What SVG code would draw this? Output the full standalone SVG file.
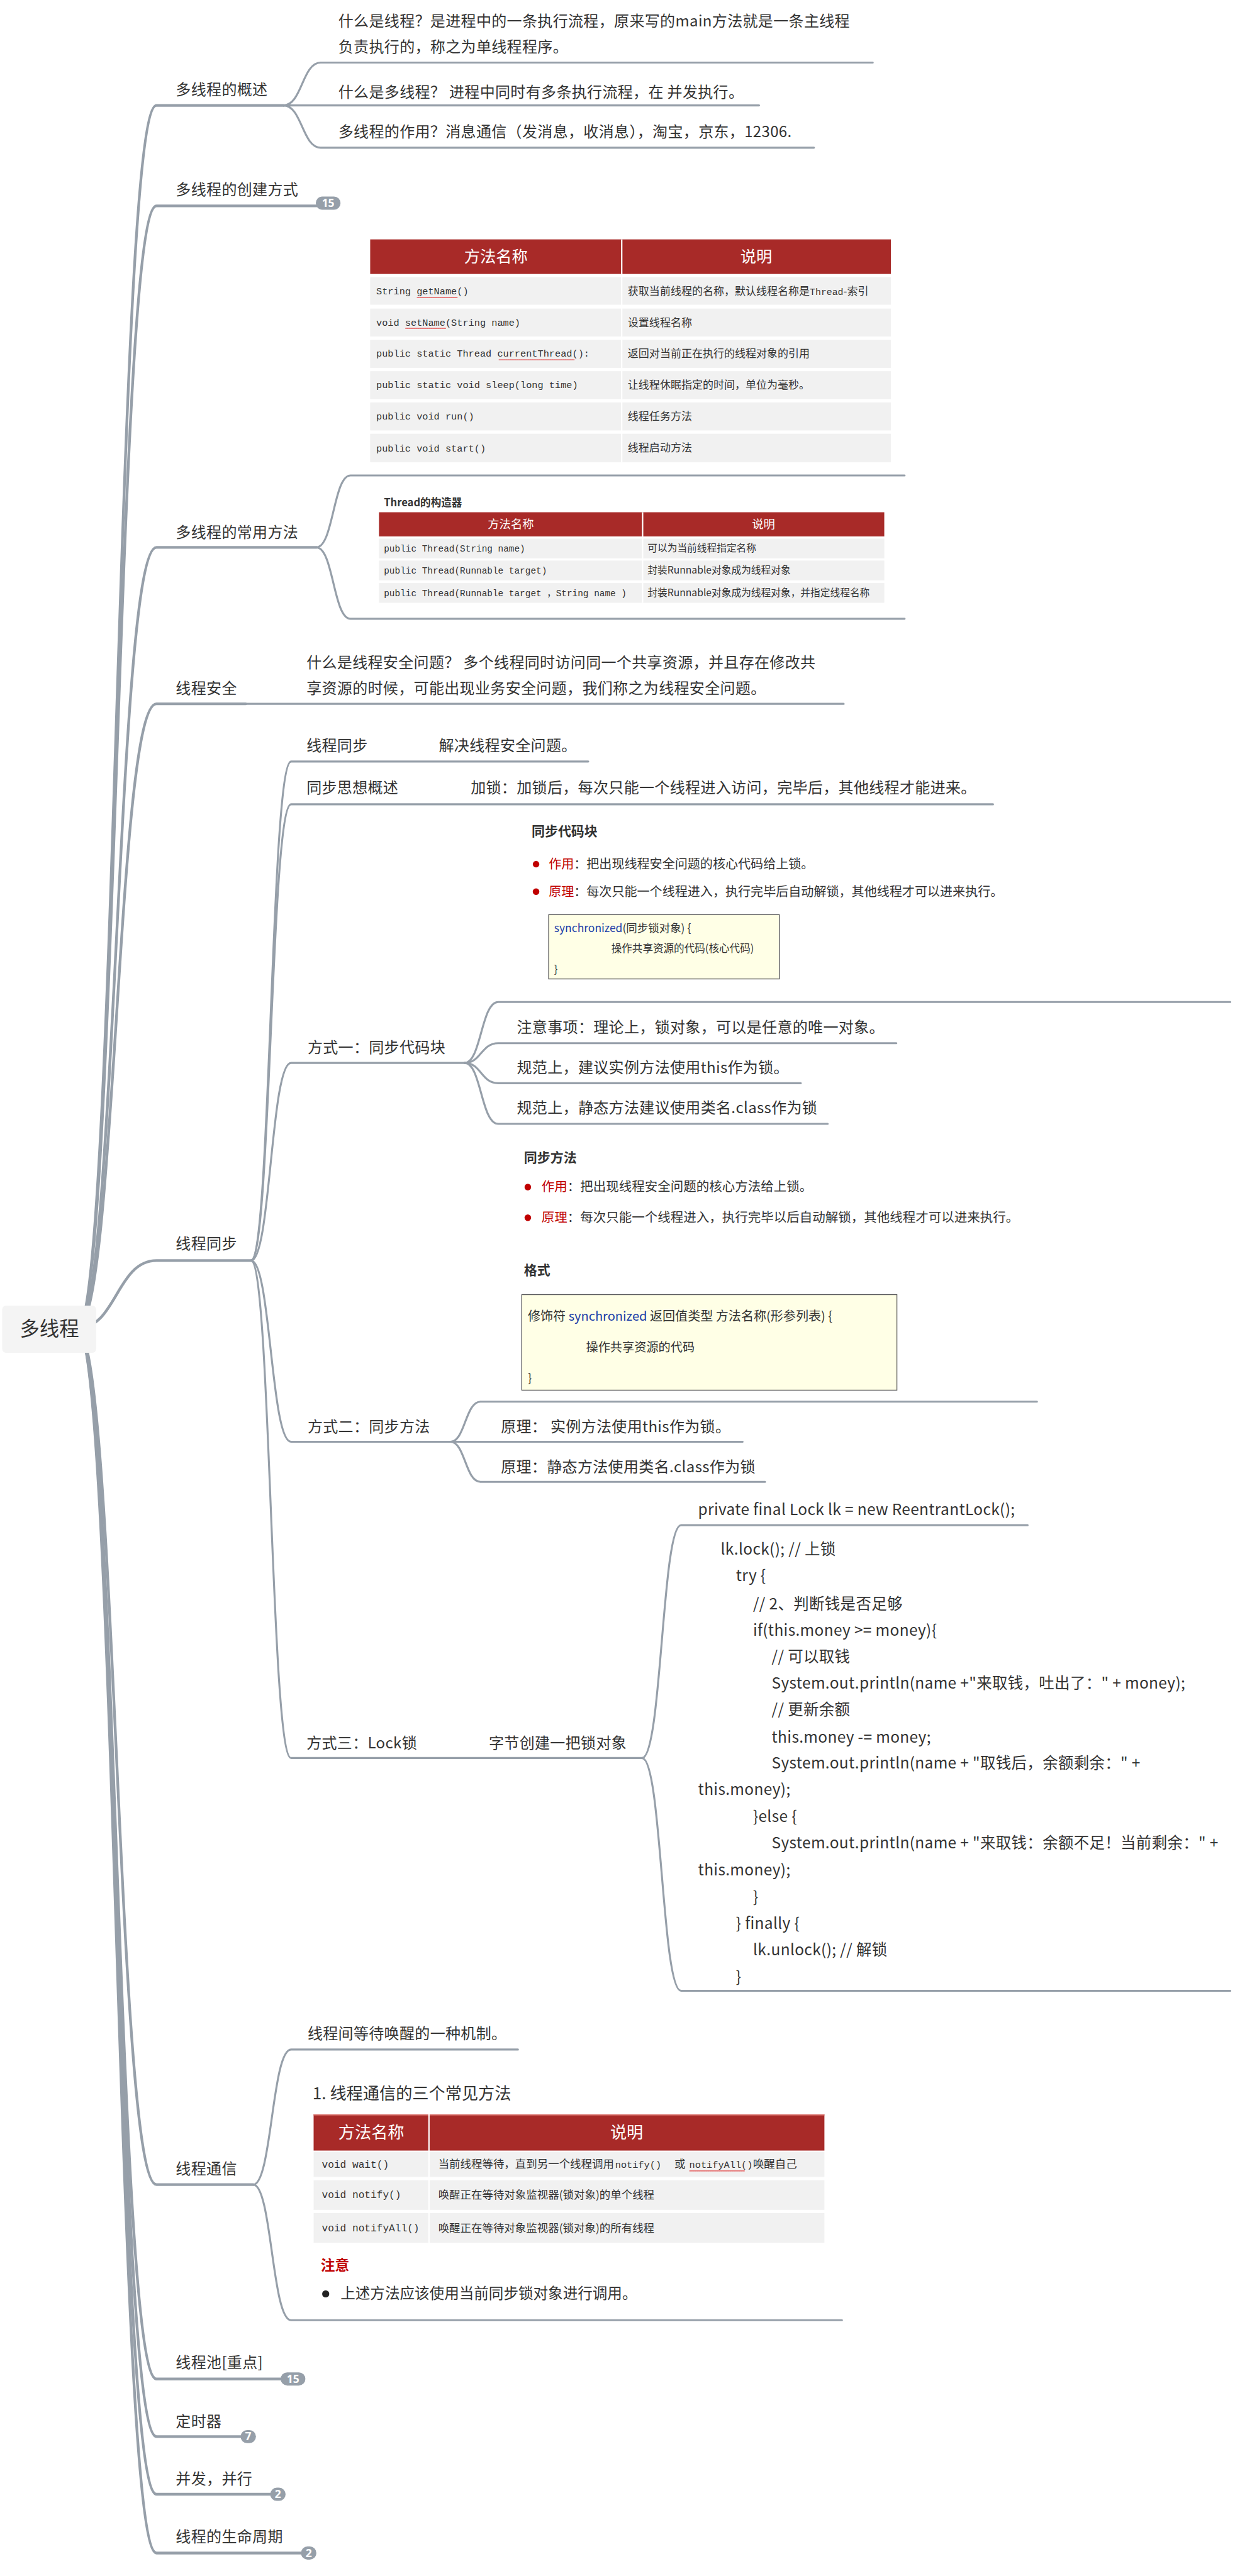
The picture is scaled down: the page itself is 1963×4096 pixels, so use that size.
<svg xmlns="http://www.w3.org/2000/svg" width="1963" height="4096" viewBox="0 0 1963 4096">
<defs>
<style>
.ln{fill:none;stroke:#969fa9;stroke-width:3.6;stroke-linecap:round}
.l1{stroke-width:5}
.t{font-family:"Noto Sans CJK SC","Noto Sans",sans-serif;font-size:27.5px;letter-spacing:0.4px;fill:#333}
.code{font-size:28px}
.s{font-family:"Noto Sans CJK SC","Noto Sans",sans-serif;fill:#333}
.b{font-weight:bold}
.m{font-family:"Liberation Mono","Noto Sans CJK SC",monospace;fill:#333}
.w{fill:#fff}
.red{fill:#c00000}
.blue{fill:#2040a8}
.hd{fill:#a82a28}
.row{fill:#f1f1f1}
.badge{fill:#969fa9}
.bt{font-family:"Noto Sans","Noto Sans CJK SC",sans-serif;font-size:20px;font-weight:bold;fill:#fff;text-anchor:middle}
.box{fill:#ffffe6;stroke:#555;stroke-width:1.5}
</style>
<pattern id="wave" width="4" height="4" patternUnits="userSpaceOnUse"><path d="M0 3 L1 1 L2 3 L3 1 L4 3" stroke="#e03030" fill="none" stroke-width="0.8"/></pattern>
</defs>
<rect width="1963" height="4096" fill="#fff"/>
<g transform="scale(0.873)">
<g id="connectors">
<path class="ln l1" d="M140 2420 C212 2420 212 192 285 192 L516 192"/>
<path class="ln l1" d="M140 2420 C212 2420 212 375 285 375 L590 375"/>
<path class="ln l1" d="M140 2420 C212 2420 212 997 285 997 L576 997"/>
<path class="ln l1" d="M140 2420 C212 2420 212 1282 285 1282 L447 1282"/>
<path class="ln l1" d="M140 2420 C212 2420 212 2296 285 2296 L457 2296"/>
<path class="ln l1" d="M140 2420 C212 2420 212 3979 285 3979 L461 3979"/>
<path class="ln l1" d="M140 2420 C212 2420 212 4333 285 4333 L525 4333"/>
<path class="ln l1" d="M140 2420 C212 2420 212 4438 285 4438 L445 4438"/>
<path class="ln l1" d="M140 2420 C212 2420 212 4543 285 4543 L500 4543"/>
<path class="ln l1" d="M140 2420 C212 2420 212 4650 285 4650 L556 4650"/>
<path class="ln" d="M516 192 C550 192 550 114 584 114 L1589 114"/>
<path class="ln" d="M516 192 L1382 192"/>
<path class="ln" d="M516 192 C550 192 550 269 584 269 L1482 269"/>
<path class="ln" d="M576 997 C607 997 607 866 638 866 L1647 866"/>
<path class="ln" d="M576 997 C607 997 607 1127 638 1127 L1647 1127"/>
<path class="ln" d="M447 1282 L1536 1282"/>
<path class="ln" d="M457 2296 C493 2296 493 1387 530 1387 L1071 1387"/>
<path class="ln" d="M457 2296 C493 2296 493 1465 530 1465 L1808 1465"/>
<path class="ln" d="M457 2296 C493 2296 493 1936 530 1936 L846 1936"/>
<path class="ln" d="M457 2296 C493 2296 493 2626 530 2626 L820 2626"/>
<path class="ln" d="M457 2296 C493 2296 493 3202 530 3202 L1169 3202"/>
<path class="ln" d="M846 1936 C876 1936 876 1825 907 1825 L2240 1825"/>
<path class="ln" d="M846 1936 C876 1936 876 1900 907 1900 L1632 1900"/>
<path class="ln" d="M846 1936 C876 1936 876 1973 907 1973 L1458 1973"/>
<path class="ln" d="M846 1936 C876 1936 876 2047 907 2047 L1507 2047"/>
<path class="ln" d="M820 2626 C847 2626 847 2553 875 2553 L1888 2553"/>
<path class="ln" d="M820 2626 L1352 2626"/>
<path class="ln" d="M820 2626 C847 2626 847 2699 875 2699 L1393 2699"/>
<path class="ln" d="M1169 3202 C1205 3202 1205 2778 1240 2778 L1871 2778"/>
<path class="ln" d="M1169 3202 C1205 3202 1205 3626 1240 3626 L2240 3626"/>
<path class="ln" d="M461 3979 C495 3979 495 3733 530 3733 L943 3733"/>
<path class="ln" d="M461 3979 C495 3979 495 4226 530 4226 L1533 4226"/>
</g>

<g id="root">
<rect x="4" y="2378" width="171" height="86" rx="7" fill="#f4f4f4"/>
<text class="s" x="90" y="2433" font-size="36" text-anchor="middle">多线程</text>
</g>

<g id="n-overview">
<text class="t" x="320" y="173">多线程的概述</text>
<text class="t" x="616" y="48">什么是线程？是进程中的一条执行流程，原来写的main方法就是一条主线程</text>
<text class="t" x="616" y="95">负责执行的，称之为单线程程序。</text>
<text class="t" x="616" y="177">什么是多线程？ 进程中同时有多条执行流程，在 并发执行。</text>
<text class="t" x="616" y="250">多线程的作用？消息通信（发消息，收消息），淘宝，京东，12306.</text>
</g>

<g id="n-create">
<text class="t" x="320" y="355">多线程的创建方式</text>
<rect class="badge" x="575" y="358" width="45" height="24" rx="12"/>
<text class="bt" x="597.5" y="377">15</text>
</g>

<g id="n-methods">
<text class="t" x="320" y="979">多线程的常用方法</text>
</g>

<g id="n-table1">
<rect class="hd" x="674" y="436" width="948" height="63"/>
<text class="s w" x="903" y="478" font-size="29" text-anchor="middle">方法名称</text>
<text class="s w" x="1377" y="478" font-size="29" text-anchor="middle">说明</text>
<rect class="row" x="674" y="505" width="948" height="50"/>
<rect class="row" x="674" y="562" width="948" height="51"/>
<rect class="row" x="674" y="619" width="948" height="51"/>
<rect class="row" x="674" y="676" width="948" height="51"/>
<rect class="row" x="674" y="733" width="948" height="51"/>
<rect class="row" x="674" y="790" width="948" height="52"/>
<line x1="1132" y1="436" x2="1132" y2="842" stroke="#fff" stroke-width="2.5"/>
<g class="m" font-size="17.5">
<text x="685" y="536">String getName()</text>
<text x="685" y="593">void setName(String name)</text>
<text x="685" y="650">public static Thread currentThread():</text>
<text x="685" y="707">public static void sleep(long time)</text>
<text x="685" y="764">public void run()</text>
<text x="685" y="822">public void start()</text>
</g>
<rect x="759" y="540" width="74" height="3" fill="url(#wave)"/>
<rect x="738" y="597" width="74" height="3" fill="url(#wave)"/>
<rect x="908" y="654" width="138" height="3" fill="url(#wave)"/>
<g class="s" font-size="19.5">
<text x="1143" y="537">获取当前线程的名称，默认线程名称是<tspan class="m" font-size="17">Thread</tspan>-索引</text>
<text x="1143" y="594">设置线程名称</text>
<text x="1143" y="651">返回对当前正在执行的线程对象的引用</text>
<text x="1143" y="708">让线程休眠指定的时间，单位为毫秒。</text>
<text x="1143" y="765">线程任务方法</text>
<text x="1143" y="823">线程启动方法</text>
</g>
</g>

<g id="n-table2">
<text class="s b" x="699" y="922" font-size="19">Thread的构造器</text>
<rect class="hd" x="690" y="933" width="920" height="44"/>
<text class="s w" x="930" y="962" font-size="21" text-anchor="middle">方法名称</text>
<text class="s w" x="1390" y="962" font-size="21" text-anchor="middle">说明</text>
<rect class="row" x="690" y="981" width="920" height="36"/>
<rect class="row" x="690" y="1021" width="920" height="36"/>
<rect class="row" x="690" y="1062" width="920" height="36"/>
<line x1="1170" y1="933" x2="1170" y2="1098" stroke="#fff" stroke-width="2.5"/>
<g class="m" font-size="16.5">
<text x="699" y="1005">public Thread(String name)</text>
<text x="699" y="1045">public Thread(Runnable target)</text>
<text x="699" y="1086">public Thread(Runnable target ，String name )</text>
</g>
<g class="s" font-size="18">
<text x="1179" y="1005">可以为当前线程指定名称</text>
<text x="1179" y="1045">封装Runnable对象成为线程对象</text>
<text x="1179" y="1086">封装Runnable对象成为线程对象，并指定线程名称</text>
</g>
</g>

<g id="n-safety">
<text class="t" x="320" y="1263">线程安全</text>
<text class="t" x="558" y="1217">什么是线程安全问题？ 多个线程同时访问同一个共享资源，并且存在修改共</text>
<text class="t" x="558" y="1263">享资源的时候，可能出现业务安全问题，我们称之为线程安全问题。</text>
</g>

<g id="n-sync">
<text class="t" x="320" y="2275">线程同步</text>
</g>
<g id="n-sync-sub">
<text class="t" x="558" y="1368">线程同步</text>
<text class="t" x="799" y="1368">解决线程安全问题。</text>
</g>
<g id="n-sync-idea">
<text class="t" x="558" y="1445">同步思想概述</text>
<text class="t" x="857" y="1445">加锁：加锁后，每次只能一个线程进入访问，完毕后，其他线程才能进来。</text>
</g>

<g id="n-way1">
<text class="t" x="560" y="1917">方式一：同步代码块</text>
</g>
<g id="n-way1-img">
<text class="s b" x="968" y="1522" font-size="24">同步代码块</text>
<circle cx="976" cy="1574" r="6" fill="#c00000"/>
<text class="s" x="999" y="1582" font-size="23"><tspan class="red">作用</tspan>：把出现线程安全问题的核心代码给上锁。</text>
<circle cx="976" cy="1624" r="6" fill="#c00000"/>
<text class="s" x="999" y="1632" font-size="23"><tspan class="red">原理</tspan>：每次只能一个线程进入，执行完毕后自动解锁，其他线程才可以进来执行。</text>
<rect class="box" x="999" y="1666" width="420" height="117"/>
<text class="s" x="1009" y="1698" font-size="20"><tspan class="blue">synchronized</tspan>(同步锁对象) {</text>
<text class="s" x="1113" y="1734" font-size="19">操作共享资源的代码(核心代码)</text>
<text class="s" x="1009" y="1772" font-size="19">}</text>
</g>
<g id="n-way1-a"><text class="t" x="941" y="1881">注意事项：理论上，锁对象，可以是任意的唯一对象。</text></g>
<g id="n-way1-b"><text class="t" x="941" y="1954">规范上，建议实例方法使用this作为锁。</text></g>
<g id="n-way1-c"><text class="t" x="941" y="2028">规范上，静态方法建议使用类名.class作为锁</text></g>

<g id="n-way2">
<text class="t" x="560" y="2608">方式二：同步方法</text>
</g>
<g id="n-way2-img">
<text class="s b" x="954" y="2117" font-size="24">同步方法</text>
<circle cx="961" cy="2162" r="6" fill="#c00000"/>
<text class="s" x="986" y="2170" font-size="23.5"><tspan class="red">作用</tspan>：把出现线程安全问题的核心方法给上锁。</text>
<circle cx="961" cy="2218" r="6" fill="#c00000"/>
<text class="s" x="986" y="2226" font-size="23.5"><tspan class="red">原理</tspan>：每次只能一个线程进入，执行完毕以后自动解锁，其他线程才可以进来执行。</text>
<text class="s b" x="954" y="2322" font-size="24">格式</text>
<rect class="box" x="950" y="2358" width="683" height="174"/>
<text class="s" x="961" y="2406" font-size="23">修饰符 <tspan class="blue">synchronized</tspan> 返回值类型 方法名称(形参列表) {</text>
<text class="s" x="1067" y="2462" font-size="22">操作共享资源的代码</text>
<text class="s" x="961" y="2518" font-size="22">}</text>
</g>
<g id="n-way2-a"><text class="t" x="912" y="2608">原理： 实例方法使用this作为锁。</text></g>
<g id="n-way2-b"><text class="t" x="912" y="2682">原理：静态方法使用类名.class作为锁</text></g>

<g id="n-way3">
<text class="t" x="558" y="3184">方式三：Lock锁</text>
</g>
<g id="n-way3-sub"><text class="t" x="890" y="3184">字节创建一把锁对象</text></g>
<g id="n-way3-a"><text class="t code" x="1271" y="2759">private final Lock lk = new ReentrantLock();</text></g>
<g id="n-way3-code" class="t code">
<text x="1312" y="2832">lk.lock(); // 上锁</text>
<text x="1340" y="2880">try {</text>
<text x="1371" y="2931">// 2、判断钱是否足够</text>
<text x="1371" y="2979">if(this.money &gt;= money){</text>
<text x="1405" y="3027">// 可以取钱</text>
<text x="1405" y="3076">System.out.println(name +"来取钱，吐出了：" + money);</text>
<text x="1405" y="3124">// 更新余额</text>
<text x="1405" y="3174">this.money -= money;</text>
<text x="1405" y="3221">System.out.println(name + "取钱后，余额剩余：" +</text>
<text x="1271" y="3269">this.money);</text>
<text x="1371" y="3319">}else {</text>
<text x="1405" y="3367">System.out.println(name + "来取钱：余额不足！当前剩余：" +</text>
<text x="1271" y="3416">this.money);</text>
<text x="1371" y="3465">}</text>
<text x="1340" y="3513">} finally {</text>
<text x="1371" y="3561">lk.unlock(); // 解锁</text>
<text x="1340" y="3610">}</text>
</g>

<g id="n-comm">
<text class="t" x="320" y="3960">线程通信</text>
</g>
<g id="n-comm-a"><text class="t" x="560" y="3714">线程间等待唤醒的一种机制。</text></g>
<g id="n-comm-img">
<text class="s" x="569" y="3824" font-size="30">1. 线程通信的三个常见方法</text>
<rect class="hd" x="571" y="3851" width="930" height="66"/>
<line x1="571" y1="3852" x2="1501" y2="3852" stroke="#d9706a" stroke-width="2"/>
<text class="s w" x="676" y="3895" font-size="30" text-anchor="middle">方法名称</text>
<text class="s w" x="1141" y="3895" font-size="30" text-anchor="middle">说明</text>
<rect class="row" x="571" y="3919" width="930" height="46"/>
<rect class="row" x="571" y="3971" width="930" height="54"/>
<rect class="row" x="571" y="4031" width="930" height="54"/>
<line x1="781" y1="3851" x2="781" y2="4085" stroke="#fff" stroke-width="2.5"/>
<g class="m" font-size="18.5">
<text x="586" y="3948">void wait()</text>
<text x="586" y="4004">void notify()</text>
<text x="586" y="4064">void notifyAll()</text>
</g>
<text class="s" x="798" y="3949" font-size="20">当前线程等待，直到另一个线程调用<tspan class="m" x="1120" font-size="17.5">notify()</tspan><tspan x="1228">或</tspan><tspan class="m" x="1255" font-size="17.5">notifyAll()</tspan><tspan x="1371">唤醒自己</tspan></text>
<rect x="1255" y="3953" width="101" height="3" fill="url(#wave)"/>
<text class="s" x="798" y="4005" font-size="20">唤醒正在等待对象监视器(锁对象)的单个线程</text>
<text class="s" x="798" y="4065" font-size="20">唤醒正在等待对象监视器(锁对象)的所有线程</text>
<text class="s b red" x="584" y="4135" font-size="26">注意</text>
<circle cx="593" cy="4178" r="6.5" fill="#222"/>
<text class="s" x="620" y="4187" font-size="27">上述方法应该使用当前同步锁对象进行调用。</text>
</g>

<g id="n-pool">
<text class="t" x="320" y="4313">线程池[重点]</text>
<rect class="badge" x="511" y="4321" width="45" height="24" rx="12"/>
<text class="bt" x="533.5" y="4340">15</text>
</g>
<g id="n-timer">
<text class="t" x="320" y="4420">定时器</text>
<rect class="badge" x="438" y="4426" width="28" height="24" rx="12"/>
<text class="bt" x="452" y="4445">7</text>
</g>
<g id="n-concurrent">
<text class="t" x="320" y="4525">并发，并行</text>
<rect class="badge" x="492" y="4531" width="28" height="24" rx="12"/>
<text class="bt" x="506" y="4550">2</text>
</g>
<g id="n-lifecycle">
<text class="t" x="320" y="4630">线程的生命周期</text>
<rect class="badge" x="548" y="4638" width="28" height="24" rx="12"/>
<text class="bt" x="562" y="4657">2</text>
</g>
</g>
</svg>
